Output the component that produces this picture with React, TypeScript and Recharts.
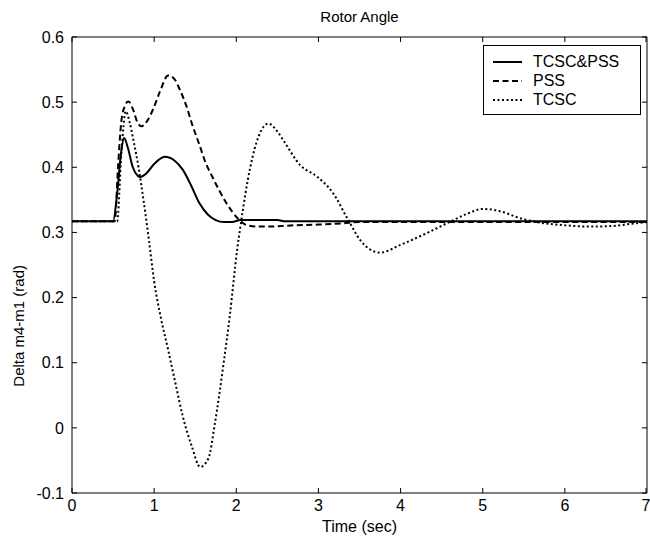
import { LineChart, Line, XAxis, YAxis, Legend } from "recharts"

const xTicks = [0, 1, 2, 3, 4, 5, 6, 7]
const yTicks = [-0.1, 0, 0.1, 0.2, 0.3, 0.4, 0.5, 0.6]

// TCSC&PSS (solid)
const bothTime = [0, 0.5, 0.55, 0.6, 0.635, 0.68, 0.74, 0.8, 0.83, 0.9, 1.0, 1.13, 1.25, 1.35, 1.45, 1.55, 1.65, 1.75, 1.85, 1.95, 2.05, 2.5, 2.6, 7]
const bothAngle = [0.317, 0.317, 0.36, 0.425, 0.445, 0.43, 0.4, 0.387, 0.385, 0.39, 0.405, 0.416, 0.41, 0.396, 0.372, 0.345, 0.328, 0.319, 0.316, 0.316, 0.319, 0.319, 0.317, 0.317]

// PSS (dashed)
const pssTime = [0, 0.52, 0.56, 0.6, 0.64, 0.685, 0.745, 0.8, 0.845, 0.92, 0.99, 1.07, 1.17, 1.25, 1.31, 1.39, 1.47, 1.55, 1.63, 1.71, 1.79, 1.87, 1.95, 2.03, 2.11, 2.25, 2.4, 2.7, 3.0, 3.3, 3.5, 7]
const pssAngle = [0.317, 0.317, 0.4, 0.47, 0.493, 0.501, 0.488, 0.468, 0.463, 0.472, 0.49, 0.516, 0.541, 0.535, 0.52, 0.495, 0.463, 0.435, 0.406, 0.385, 0.365, 0.347, 0.332, 0.32, 0.312, 0.309, 0.309, 0.311, 0.312, 0.314, 0.316, 0.316]

// TCSC (dotted)
const tcscTime = [0, 0.55, 0.6, 0.655, 0.7, 0.75, 0.81, 0.87, 0.94, 1.0, 1.08, 1.17, 1.26, 1.35, 1.46, 1.56, 1.66, 1.74, 1.84, 1.92, 2.01, 2.05, 2.17, 2.27, 2.39, 2.5, 2.57, 2.78, 2.98, 3.18, 3.35, 3.51, 3.75, 4.0, 4.32, 4.58, 4.8, 5.0, 5.2, 5.45, 5.7, 6.0, 6.3, 6.6, 6.85, 7]
const tcscAngle = [0.317, 0.317, 0.42, 0.486, 0.47, 0.44, 0.4, 0.35, 0.285, 0.225, 0.17, 0.12, 0.068, 0.017, -0.029, -0.06, -0.047, 0.007, 0.094, 0.171, 0.273, 0.309, 0.4, 0.447, 0.467, 0.455, 0.442, 0.403, 0.386, 0.36, 0.322, 0.288, 0.269, 0.281, 0.299, 0.315, 0.328, 0.336, 0.333, 0.322, 0.315, 0.311, 0.309, 0.31, 0.314, 0.316]

const toPoints = (t: number[], v: number[]) => t.map((x, i) => ({ t: x, v: v[i] }))

const font = "'Liberation Sans', Arial, sans-serif"

const series = [
  { name: "TCSC&PSS", data: toPoints(bothTime, bothAngle), dash: undefined },
  { name: "PSS", data: toPoints(pssTime, pssAngle), dash: "6 3.5" },
  { name: "TCSC", data: toPoints(tcscTime, tcscAngle), dash: "2 2.5" },
]

// inward MATLAB-style tick marks, label drawn next to the axis
const BottomTick = ({ x, y, payload }: any) => (
  <g>
    <line x1={x} x2={x} y1={y} y2={y - 5} stroke="#000" />
    <text x={x} y={y + 7} dy="0.71em" textAnchor="middle" fill="#000" fontSize={16} fontFamily={font}>{payload.value}</text>
  </g>
)
const LeftTick = ({ x, y, payload }: any) => (
  <g>
    <line x1={x} x2={x + 5} y1={y} y2={y} stroke="#000" />
    <text x={x - 8} y={y} dy="0.355em" textAnchor="end" fill="#000" fontSize={16} fontFamily={font}>{payload.value}</text>
  </g>
)
const TopTick = ({ x, y }: any) => <line x1={x} x2={x} y1={y} y2={y + 5} stroke="#000" />
const RightTick = ({ x, y }: any) => <line x1={x} x2={x - 5} y1={y} y2={y} stroke="#000" />

function LegendBox() {
  return (
    <div style={{ border: "1px solid #000", background: "#fff", padding: "6px 0 5px 8px", fontFamily: font, fontSize: 16, lineHeight: "19px", boxSizing: "border-box", width: 158 }}>
      {series.map((s) => (
        <div key={s.name} style={{ display: "flex", alignItems: "center" }}>
          <svg width={32} height={19} style={{ marginRight: 9 }}>
            <line x1={1} y1={10} x2={30} y2={10} stroke="#000" strokeWidth={2} strokeDasharray={s.dash} />
          </svg>
          <span>{s.name}</span>
        </div>
      ))}
    </div>
  )
}

export default function App() {
  return (
    <div style={{ position: "absolute", left: 0, top: 0, width: 650, height: 541, background: "#fff" }}>
      <LineChart width={650} height={541} margin={{ top: 36, right: 2, bottom: 47, left: 71 }}>
        <XAxis xAxisId="b" dataKey="t" type="number" domain={[0, 7]} ticks={xTicks} orientation="bottom" height={1}
          tickSize={0} tickMargin={0} tickLine={false} tick={BottomTick} stroke="#000" allowDataOverflow
          label={{ value: "Time (sec)", position: "bottom", offset: 27, fill: "#000", fontSize: 16, fontFamily: font }} />
        <XAxis xAxisId="top" dataKey="t" type="number" domain={[0, 7]} ticks={xTicks} orientation="top" height={1}
          tickSize={0} tickMargin={0} tickLine={false} tick={TopTick} stroke="#000" allowDataOverflow
          label={{ value: "Rotor Angle", position: "top", offset: 14, fill: "#000", fontSize: 15, fontFamily: font }} />
        <YAxis yAxisId="l" type="number" domain={[-0.1, 0.6]} ticks={yTicks} width={1}
          tickSize={0} tickMargin={0} tickLine={false} tick={LeftTick} stroke="#000" allowDataOverflow
          label={{ value: "Delta m4-m1 (rad)", angle: -90, position: "left", offset: 52, fill: "#000", fontSize: 15, fontFamily: font }} />
        <YAxis yAxisId="r" orientation="right" type="number" domain={[-0.1, 0.6]} ticks={yTicks} width={1}
          tickSize={0} tickMargin={0} tickLine={false} tick={RightTick} stroke="#000" allowDataOverflow />
        <Legend layout="vertical" align="center" verticalAlign="middle" content={() => <LegendBox />}
          wrapperStyle={{ top: 45, left: 483, width: 158, right: "auto", bottom: "auto" }} />
        {series.map((s) => (
          <Line key={s.name} xAxisId="b" yAxisId="l" data={s.data} dataKey="v" name={s.name} type="monotone"
            stroke="#000" strokeWidth={2} strokeDasharray={s.dash} dot={false} isAnimationActive={false} />
        ))}
      </LineChart>
    </div>
  )
}
